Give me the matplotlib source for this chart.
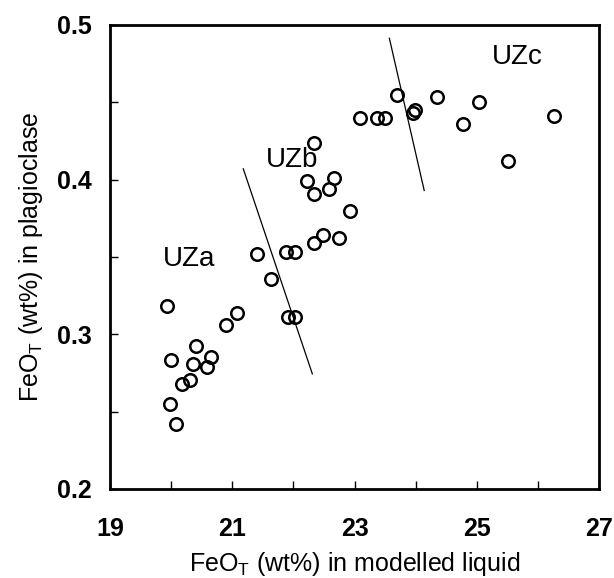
import matplotlib
matplotlib.use("Agg")
import matplotlib.pyplot as plt
from matplotlib.ticker import FixedLocator, FormatStrFormatter

plt.rcParams['font.family'] = ['Liberation Sans', 'DejaVu Sans']
plt.rcParams['mathtext.fontset'] = 'custom'
plt.rcParams['mathtext.rm'] = 'Liberation Sans'

# data
liquid_feo = [19.93, 21.41, 21.88, 22.03, 22.34, 22.48, 22.74, 21.63, 21.91, 22.02,
              21.07, 20.89, 20.41, 20.00, 20.66, 20.58, 20.35, 20.31, 20.17, 19.98,
              20.08, 22.33, 22.22, 22.67, 22.34, 22.59, 22.93, 23.09, 23.36, 23.50,
              23.70, 23.96, 23.99, 24.35, 24.77, 25.04, 25.51, 26.27]
plag_feo = [0.318, 0.352, 0.353, 0.3535, 0.359, 0.364, 0.362, 0.336, 0.311, 0.311,
            0.314, 0.306, 0.2925, 0.2835, 0.2856, 0.279, 0.2807, 0.2705, 0.268, 0.255,
            0.242, 0.4235, 0.399, 0.401, 0.391, 0.394, 0.380, 0.440, 0.440, 0.440,
            0.4547, 0.443, 0.445, 0.4537, 0.436, 0.450, 0.412, 0.441]
div1_x = [21.18, 22.31]
div1_y = [0.407, 0.2744]
div2_x = [23.57, 24.14]
div2_y = [0.4914, 0.393]
zone_labels = ["UZa", "UZb", "UZc"]
zone_x = [20.29, 21.98, 25.66]
zone_y = [0.349, 0.413, 0.479]
x_major_ticks = [19, 21, 23, 25, 27]
x_minor_ticks = [20, 22, 24, 26]
y_major_ticks = [0.2, 0.3, 0.4, 0.5]
y_minor_ticks = [0.25, 0.35, 0.45]

fig = plt.figure(figsize=(6.14, 5.78), dpi=100)
ax = fig.add_axes([0.1792, 0.154, 0.7964, 0.8028])

ax.plot(liquid_feo, plag_feo, linestyle='none', marker='o', markersize=9,
        markerfacecolor='none', markeredgecolor='black', markeredgewidth=1.8)
ax.plot(div1_x, div1_y, color='black', linewidth=0.9)
ax.plot(div2_x, div2_y, color='black', linewidth=0.9)
for t, x, y in zip(zone_labels, zone_x, zone_y):
    ax.text(x, y, t, fontsize=20, ha='center', va='center')

ax.set_xlim(19, 27)
ax.set_ylim(0.2, 0.5)
ax.xaxis.set_major_locator(FixedLocator(x_major_ticks))
ax.xaxis.set_minor_locator(FixedLocator(x_minor_ticks))
ax.yaxis.set_major_locator(FixedLocator(y_major_ticks))
ax.yaxis.set_minor_locator(FixedLocator(y_minor_ticks))
ax.tick_params(which='both', direction='in', length=6, width=1.0,
               top=False, right=False)
ax.tick_params(axis='x', pad=20.5, labelsize=18)
ax.tick_params(axis='y', pad=13, labelsize=18)
ax.yaxis.set_major_formatter(FormatStrFormatter('%.1f'))
for lab in ax.get_xticklabels() + ax.get_yticklabels():
    lab.set_fontweight('bold')
for s in ax.spines.values():
    s.set_linewidth(2.0)

ax.set_xlabel('FeO$_\\mathrm{T}$ (wt%) in modelled liquid', fontsize=18, labelpad=6)
ax.set_ylabel('FeO$_\\mathrm{T}$ (wt%) in plagioclase', fontsize=18, labelpad=9)

fig.savefig('out.png', dpi=100)
